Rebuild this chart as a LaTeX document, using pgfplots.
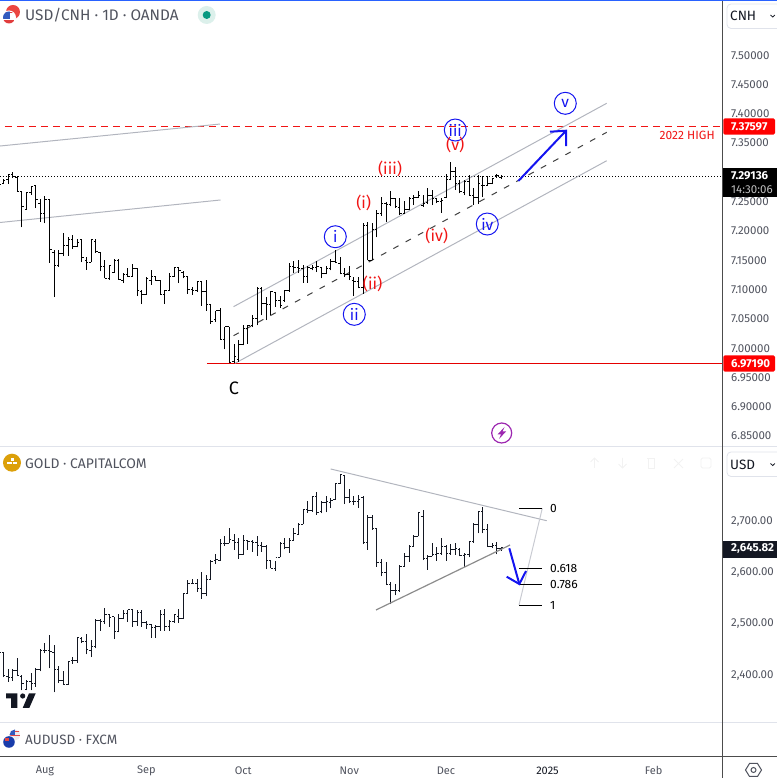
\documentclass[border=0pt]{standalone}
\usepackage{fontspec}
\setmainfont{Fira Sans}
\usepackage{pgfplots}
\usepackage{pgfplotstable}
\pgfplotsset{compat=1.18}
\definecolor{tvgray}{HTML}{50535E}
\definecolor{tvdark}{HTML}{131722}
\definecolor{sepc}{HTML}{E0E3EB}
\definecolor{chanc}{HTML}{B2B5BE}
\definecolor{ablue}{HTML}{1414F0}
\definecolor{ared}{HTML}{F01414}
\newcommand\XY[2]{(#1bp,{778bp-#2bp})}
\newcommand\fs[1]{\fontsize{#1bp}{#1bp}\selectfont}
\pgfplotstableread{
i o h l c
-10 7.266 7.278 7.261 7.278
-9 7.279 7.286 7.278 7.285
-8 7.286 7.295 7.279 7.294
-7 7.294 7.298 7.288 7.291
-6 7.289 7.291 7.265 7.265
-5 7.265 7.265 7.204 7.239
-4 7.235 7.265 7.235 7.264
-3 7.263 7.274 7.260 7.274
-2 7.275 7.275 7.237 7.252
-1 7.245 7.252 7.214 7.227
0 7.227 7.258 7.211 7.251
1 7.251 7.252 7.144 7.166
2 7.161 7.166 7.085 7.139
3 7.139 7.166 7.137 7.159
4 7.160 7.194 7.155 7.173
5 7.173 7.187 7.156 7.184
6 7.184 7.191 7.167 7.171
7 7.171 7.184 7.170 7.179
8 7.183 7.184 7.145 7.153
9 7.148 7.153 7.132 7.145
10 7.145 7.184 7.145 7.183
11 7.180 7.184 7.161 7.163
12 7.161 7.163 7.129 7.137
13 7.137 7.148 7.117 7.117
14 7.117 7.140 7.115 7.139
15 7.128 7.150 7.127 7.148
16 7.148 7.150 7.115 7.115
17 7.114 7.126 7.109 7.123
18 7.123 7.134 7.120 7.121
19 7.121 7.141 7.120 7.134
20 7.134 7.134 7.087 7.096
21 7.094 7.097 7.073 7.090
22 7.090 7.119 7.089 7.117
23 7.114 7.131 7.106 7.121
24 7.121 7.121 7.113 7.113
25 7.113 7.114 7.089 7.090
26 7.090 7.097 7.074 7.096
27 7.096 7.126 7.096 7.121
28 7.120 7.136 7.120 7.135
29 7.135 7.137 7.109 7.130
30 7.128 7.130 7.117 7.121
31 7.120 7.120 7.091 7.098
32 7.098 7.103 7.089 7.097
33 7.097 7.113 7.094 7.111
34 7.111 7.113 7.070 7.095
35 7.095 7.114 7.062 7.072
36 7.072 7.072 7.040 7.043
37 7.047 7.062 7.043 7.062
38 7.062 7.066 7.012 7.012
39 7.012 7.035 6.996 7.035
40 7.035 7.035 6.973 6.973
41 6.975 7.005 6.972 6.983
42 6.979 7.012 6.975 7.005
43 7.005 7.037 7.003 7.032
44 7.032 7.037 7.006 7.037
45 7.037 7.054 7.034 7.049
46 7.049 7.103 7.037 7.100
47 7.100 7.102 7.054 7.074
48 7.074 7.086 7.046 7.073
49 7.072 7.096 7.054 7.094
50 7.093 7.094 7.069 7.080
51 7.080 7.087 7.067 7.070
52 7.079 7.097 7.077 7.096
53 7.097 7.143 7.094 7.137
54 7.137 7.147 7.126 7.136
55 7.136 7.148 7.127 7.134
56 7.134 7.140 7.110 7.120
57 7.120 7.139 7.110 7.136
58 7.134 7.140 7.131 7.136
59 7.136 7.146 7.128 7.137
60 7.136 7.137 7.117 7.126
61 7.126 7.138 7.124 7.134
62 7.134 7.151 7.131 7.146
63 7.146 7.165 7.143 7.144
64 7.143 7.154 7.124 7.126
65 7.126 7.134 7.120 7.124
66 7.124 7.139 7.114 7.120
67 7.114 7.119 7.087 7.111
68 7.111 7.119 7.100 7.102
69 7.102 7.211 7.091 7.208
70 7.208 7.213 7.148 7.148
71 7.148 7.211 7.148 7.200
72 7.200 7.233 7.187 7.227
73 7.227 7.256 7.224 7.245
74 7.245 7.248 7.213 7.244
75 7.244 7.266 7.240 7.254
76 7.254 7.254 7.238 7.239
77 7.238 7.254 7.225 7.228
78 7.228 7.250 7.227 7.234
79 7.234 7.256 7.233 7.254
80 7.254 7.259 7.242 7.256
81 7.256 7.267 7.254 7.259
82 7.242 7.259 7.239 7.245
83 7.246 7.272 7.244 7.258
84 7.258 7.268 7.242 7.254
85 7.254 7.255 7.245 7.248
86 7.248 7.254 7.229 7.250
87 7.255 7.296 7.254 7.286
88 7.286 7.315 7.285 7.299
89 7.299 7.307 7.268 7.279
90 7.279 7.285 7.262 7.265
91 7.263 7.285 7.259 7.282
92 7.282 7.293 7.258 7.259
93 7.259 7.271 7.243 7.256
94 7.256 7.293 7.244 7.279
95 7.276 7.291 7.256 7.276
96 7.276 7.292 7.276 7.279
97 7.279 7.288 7.278 7.288
98 7.293 7.295 7.289 7.293
99 7.289 7.293 7.287 7.291
}\usdcnh
\pgfplotstableread{
i o h l c
-10 2466 2473 2442 2442
-9 2442 2442 2394 2398
-8 2396 2409 2385 2394
-7 2394 2409 2387 2407
-6 2407 2431 2396 2398
-5 2396 2398 2368 2382
-4 2369 2388 2368 2385
-3 2385 2401 2368 2382
-2 2381 2411 2375 2408
-1 2408 2448 2405 2445
0 2445 2460 2440 2445
1 2445 2476 2411 2443
2 2442 2456 2364 2408
3 2408 2416 2382 2388
4 2387 2405 2379 2380
5 2380 2426 2379 2424
6 2427 2434 2420 2427
7 2427 2473 2422 2471
8 2470 2473 2460 2464
9 2463 2477 2438 2447
10 2445 2466 2433 2453
11 2453 2507 2450 2505
12 2505 2507 2484 2502
13 2502 2529 2497 2515
14 2515 2515 2492 2510
15 2512 2512 2468 2482
16 2482 2517 2481 2508
17 2508 2525 2507 2518
18 2518 2525 2502 2525
19 2525 2527 2492 2502
20 2502 2525 2494 2520
21 2520 2525 2492 2501
22 2501 2504 2488 2497
23 2497 2497 2471 2491
24 2491 2495 2471 2492
25 2492 2525 2484 2515
26 2515 2526 2484 2492
27 2492 2505 2484 2502
28 2502 2517 2500 2515
29 2512 2526 2500 2508
30 2508 2557 2507 2556
31 2557 2584 2557 2577
32 2577 2586 2575 2577
33 2577 2586 2560 2567
34 2567 2599 2547 2556
35 2556 2593 2551 2584
36 2584 2623 2584 2619
37 2621 2634 2614 2623
38 2622 2663 2621 2655
39 2655 2668 2649 2655
40 2655 2684 2655 2663
41 2661 2673 2642 2656
42 2656 2664 2625 2632
43 2632 2671 2632 2661
44 2661 2661 2642 2658
45 2658 2662 2638 2656
46 2656 2669 2630 2651
47 2651 2658 2638 2648
48 2648 2651 2604 2621
49 2621 2622 2606 2606
50 2606 2621 2601 2627
51 2627 2658 2627 2655
52 2655 2664 2643 2647
53 2647 2664 2636 2660
54 2661 2684 2660 2673
55 2672 2695 2671 2692
56 2692 2721 2692 2720
57 2720 2738 2714 2718
58 2718 2747 2716 2746
59 2746 2755 2710 2714
60 2716 2738 2713 2734
61 2734 2746 2715 2736
62 2734 2742 2723 2738
63 2740 2773 2739 2771
64 2771 2788 2771 2788
65 2786 2788 2731 2744
66 2744 2760 2733 2736
67 2736 2746 2729 2736
68 2736 2749 2723 2740
69 2744 2747 2653 2656
70 2656 2710 2642 2705
71 2705 2710 2681 2684
72 2683 2684 2609 2617
73 2617 2625 2590 2597
74 2597 2619 2573 2575
75 2575 2580 2536 2562
76 2562 2575 2553 2562
77 2562 2612 2560 2610
78 2610 2636 2609 2629
79 2629 2651 2619 2649
80 2649 2671 2648 2668
81 2668 2716 2668 2714
82 2707 2720 2622 2625
83 2625 2632 2603 2629
84 2629 2656 2629 2632
85 2632 2648 2621 2635
86 2635 2664 2632 2649
87 2649 2651 2621 2635
88 2635 2653 2632 2642
89 2642 2655 2632 2645
90 2642 2645 2629 2630
91 2630 2635 2609 2632
92 2632 2658 2627 2658
93 2658 2694 2656 2692
94 2692 2718 2674 2716
95 2716 2726 2674 2681
96 2681 2692 2647 2648
97 2648 2655 2645 2651
98 2651 2658 2633 2645
99 2645 2648 2640 2646
}\goldtab
\pgfplotsset{
 panel/.style={scale only axis, width=723bp, xmin=-9.76, xmax=147.07,
  anchor=south west, axis line style={draw=none}, major tick length=0pt,
  xtick=\empty,
  ytick pos=right, yticklabel pos=right,
  tick label style={font=\fs{11.5}, text=tvgray},
  yticklabel style={anchor=west, inner sep=0pt, xshift=8bp, yshift=-1.2bp},
  /pgf/number format/assume math mode=true,
  grid=none},
 chanline/.style={chanc, line width=1bp},
}
\newcommand\ohlc[2]{%
 \addplot[draw=none, mark=none, forget plot, error bars/.cd, y dir=plus, y explicit, error mark=none, error bar style={line width=1bp, #2}]
   table[x=i, y=l, y error plus expr=\thisrow{h}-\thisrow{l}] {#1};
 \addplot[draw=none, mark=none, forget plot, error bars/.cd, x dir=minus, x fixed=0.42, error mark=none, error bar style={line width=1bp, #2}]
   table[x=i, y=o] {#1};
 \addplot[draw=none, mark=none, forget plot, error bars/.cd, x dir=plus, x fixed=0.42, error mark=none, error bar style={line width=1bp, #2}]
   table[x=i, y=c] {#1};
}
\begin{document}
\begin{tikzpicture}
\path[use as bounding box] (0,0) rectangle (777bp,778bp);
% ---------- USD/CNH panel
\begin{axis}[panel, at={(0bp,332bp)}, height=446bp, ymin=6.8311, ymax=7.5922,
 ytick={6.85,6.9,6.95,7,7.05,7.1,7.15,7.2,7.25,7.3,7.35,7.4,7.45,7.5},
 yticklabel style={/pgf/number format/.cd, fixed, fixed zerofill, precision=5}]
 \addplot[black, line width=1bp, dash pattern=on 1bp off 2bp, forget plot] coordinates {(-9.76,7.29136)(147.07,7.29136)};
 \addplot[ared, line width=1bp, dash pattern=on 7bp off 5bp, forget plot] coordinates {(-8.68,7.37597)(147.07,7.37597)};
 \addplot[red!90!black, line width=1bp, forget plot] coordinates {(35.14,6.9719)(147.07,6.9719)};
 \addplot[chanline, forget plot] coordinates {(-9.76,7.343)(37.96,7.3805)};
 \addplot[chanline, forget plot] coordinates {(-9.76,7.2125)(38.07,7.2509)};
 \addplot[chanline, forget plot] coordinates {(40.89,7.0688)(121.84,7.4159)};
 \addplot[chanline, forget plot] coordinates {(41.21,6.9722)(121.84,7.3179)};
 \addplot[black!75, line width=1bp, dash pattern=on 6bp off 8bp, forget plot] coordinates {(40.89,7.0193)(121.84,7.3664)};
 \ohlc{\usdcnh}{black}
 \addplot[ablue, line width=2bp, forget plot] coordinates {(102.67,7.2833)(113.02,7.3691)};
 \addplot[ablue, line width=2bp, forget plot] coordinates {(109.54,7.3674)(113.02,7.3691)(113.02,7.343)};
 \tikzset{ew/.style={circle, draw=ablue, line width=1bp, text=ablue, minimum size=22bp, inner sep=0pt, font=\fs{15.5}},
          er/.style={text=ared, inner sep=0pt, font=\fs{16}}}
 \node[ew] at (axis cs:62.97,7.1882) {i};
 \node[ew] at (axis cs:67.09,7.0558) {ii};
 \node[ew] at (axis cs:89.0,7.3703) {iii};
 \node[ew] at (axis cs:95.94,7.2099) {iv};
 \node[ew] at (axis cs:112.86,7.4159) {v};
 \node[er] at (axis cs:69.13,7.2452) {(i)};
 \node[er] at (axis cs:71.08,7.1075) {(ii)};
 \node[er] at (axis cs:74.84,7.3032) {(iii)};
 \node[er] at (axis cs:84.97,7.1899) {(iv)};
 \node[er] at (axis cs:89.0,7.3447) {(v)};
 \node[text=black, font=\fs{18}, inner sep=0pt] at (axis cs:41.0,6.930) {C};
 \node[text=ared, font=\fs{12}, inner sep=0pt] at (axis cs:139.3,7.3613) {2022 HIGH};
\end{axis}
% ---------- GOLD panel
\begin{axis}[panel, at={(0bp,55.7bp)}, height=276.3bp, ymin=2305.9, ymax=2844.2,
 ytick={2400,2500,2600,2700},
 yticklabel style={/pgf/number format/.cd, fixed, fixed zerofill, precision=2, 1000 sep={,}}]
 \ohlc{\goldtab}{tvdark}
 \addplot[chanline, forget plot] coordinates {(61.97,2799.4)(108.83,2698.6)};
 \addplot[black!45, line width=1.2bp, forget plot] coordinates {(71.8,2524.7)(100.87,2651.3)};
 \addplot[chanc!70, line width=1bp, forget plot] coordinates {(107.87,2722.8)(102.82,2534.4)};
 \addplot[black, line width=1bp, forget plot] coordinates {(102.82,2722.8)(107.81,2722.8)};
 \addplot[black, line width=1bp, forget plot] coordinates {(102.82,2605.9)(107.81,2605.9)};
 \addplot[black, line width=1bp, forget plot] coordinates {(102.82,2574.7)(107.81,2574.7)};
 \addplot[black, line width=1bp, forget plot] coordinates {(102.82,2534.4)(107.81,2534.4)};
 \addplot[ablue, line width=2bp, forget plot] coordinates {(100.72,2644.9)(102.89,2575.3)};
 \addplot[ablue, line width=2bp, forget plot] coordinates {(100.15,2589.5)(102.89,2575.3)(104.34,2600.6)};
 \tikzset{fb/.style={anchor=west, inner sep=0pt, text=black, font=\fs{12}}}
 \node[fb] at (axis cs:109.54,2722.8) {0};
 \node[fb] at (axis cs:109.54,2605.9) {0.618};
 \node[fb] at (axis cs:109.54,2574.7) {0.786};
 \node[fb] at (axis cs:109.54,2534.4) {1};
\end{axis}
% ---------- AUDUSD panel with the time scale
\begin{axis}[panel, at={(0bp,22bp)}, height=33.7bp, ymin=0, ymax=1, ytick=\empty,
 xtick={0,22,43,66,87,109,132},
 xticklabels={Aug,Sep,Oct,Nov,Dec,{\textcolor{tvdark}{2025}},Feb},
 xticklabel style={anchor=center, inner sep=0pt, yshift=-14.5bp, font=\fs{11}}]
\end{axis}
% ---------- frame lines
\draw[sepc, line width=1bp] \XY{0}{446.3} -- \XY{777}{446.3};
\draw[sepc, line width=1bp] \XY{0}{722.3} -- \XY{777}{722.3};
\draw[black!70, line width=1bp] \XY{0}{756.3} -- \XY{777}{756.3};
\draw[black!70, line width=1bp] \XY{722.7}{0} -- \XY{722.7}{778};
\fill[color={rgb,255:red,41;green,98;blue,255}] \XY{0}{0} rectangle \XY{777}{1};
% ---------- faint pane buttons
\begin{scope}[color=black!5, line width=.8bp]
 \draw \XY{594.5}{468} -- \XY{594.5}{458} \XY{590.5}{462} -- \XY{594.5}{458} -- \XY{598.5}{462};
 \draw \XY{622.5}{458} -- \XY{622.5}{468} \XY{618.5}{464} -- \XY{622.5}{468} -- \XY{626.5}{464};
 \draw \XY{647}{458} -- \XY{655}{458} \XY{648}{458} rectangle \XY{654}{468};
 \draw \XY{674}{459} -- \XY{683}{468} \XY{683}{459} -- \XY{674}{468};
 \draw[rounded corners=1.5bp] \XY{701}{458} rectangle \XY{711}{468};
\end{scope}
% ---------- scale selectors
\draw[sepc, line width=.8bp, rounded corners=4bp, fill=white] \XY{727}{4} rectangle \XY{790}{28.5};
\draw[sepc, line width=.8bp, rounded corners=4bp, fill=white] \XY{727}{452} rectangle \XY{790}{476.5};
\node[anchor=west, inner sep=0pt, text=tvdark, font=\fs{13.5}] at \XY{730}{16} {CNH};
\node[anchor=west, inner sep=0pt, text=tvdark, font=\fs{13.5}] at \XY{730}{464.5} {USD};
\draw[tvdark, line width=.8bp] \XY{770.5}{15} -- \XY{772.7}{17} -- \XY{774.9}{15};
\draw[tvdark, line width=.8bp] \XY{770.5}{463.5} -- \XY{772.7}{465.5} -- \XY{774.9}{463.5};
% ---------- price tags
\tikzset{tag/.style={anchor=west, inner sep=0pt, text=white, font=\fs{11.5}\bfseries}}
\fill[red, rounded corners=1.5bp] \XY{723.3}{118.3} rectangle \XY{775}{134.7};
\node[tag] at \XY{731}{126.5} {7.37597};
\fill[black] \XY{723.3}{168.3} rectangle \XY{777}{197.3};
\node[tag] at \XY{731}{176} {7.29136};
\node[anchor=west, inner sep=0pt, text=black!25, font=\fs{11.5}] at \XY{731}{189.5} {14:30:06};
\fill[red, rounded corners=1.5bp] \XY{723.3}{355.3} rectangle \XY{775}{371.7};
\node[tag] at \XY{731}{363.5} {6.97190};
\fill[tvdark] \XY{723.3}{541.3} rectangle \XY{777}{558};
\node[tag] at \XY{731}{549} {2,645.82};
% ---------- legends
\tikzset{leg/.style={anchor=west, inner sep=0pt, text=tvgray, font=\fs{15.3}}}
\node[leg] at \XY{25}{15.5} {USD/CNH · 1D · OANDA};
\node[leg, font=\fs{13.9}] at \XY{25}{463.5} {GOLD · CAPITALCOM};
\node[leg, font=\fs{13.5}] at \XY{25}{739.5} {AUDUSD · FXCM};
% status dot
\fill[color={rgb,255:red,220;green,240;blue,235}] \XY{206.7}{15} circle (9bp);
\fill[color={rgb,255:red,8;green,153;blue,129}] \XY{206.7}{15} circle (4bp);
% USD/CNH icon
\fill[color={rgb,255:red,235;green,70;blue,65}] \XY{13}{12} circle (7bp);
\fill[white] \XY{9}{17.5} circle (7bp);
\begin{scope}
 \clip \XY{9}{17.5} circle (6bp);
 \fill[color={rgb,255:red,225;green,60;blue,60}] \XY{3}{12} rectangle \XY{15}{13.5};
 \fill[color={rgb,255:red,225;green,60;blue,60}] \XY{3}{20} rectangle \XY{15}{24};
 \fill[color={rgb,255:red,50;green,90;blue,190}] \XY{3}{11} rectangle \XY{10}{19};
\end{scope}
% gold icon
\fill[color={rgb,255:red,220;green,160;blue,10}] \XY{12}{462.7} circle (9bp);
\fill[white] \XY{10.5}{458.5} rectangle \XY{13.5}{461};
\fill[white] \XY{7}{462} rectangle \XY{11.5}{464.5};
\fill[white] \XY{12.5}{462} rectangle \XY{17}{464.5};
% AUD icon
\begin{scope}
 \clip \XY{15}{735} circle (5.5bp);
 \fill[color={rgb,255:red,235;green,235;blue,240}] \XY{9}{729} rectangle \XY{21}{741};
 \fill[color={rgb,255:red,225;green,70;blue,70}] \XY{9}{731} rectangle \XY{21}{732.5};
 \fill[color={rgb,255:red,225;green,70;blue,70}] \XY{9}{735} rectangle \XY{21}{736.5};
 \fill[color={rgb,255:red,50;green,90;blue,190}] \XY{9}{729} rectangle \XY{15}{735};
\end{scope}
\fill[white] \XY{9}{742} circle (6.6bp);
\fill[color={rgb,255:red,25;green,60;blue,170}] \XY{9}{742} circle (5.8bp);
\fill[color={rgb,255:red,225;green,70;blue,70}] \XY{5}{738} rectangle \XY{9}{741};
% TradingView logo
\fill[tvdark] \XY{6}{693.3} -- \XY{17.3}{693.3} -- \XY{17.3}{708} -- \XY{11}{708} -- \XY{11}{698.3} -- \XY{6}{698.3} -- cycle;
\fill[tvdark] \XY{22.7}{696} circle (2.6bp);
\fill[tvdark] \XY{29}{693.3} -- \XY{35.7}{693.3} -- \XY{29.3}{708} -- \XY{22.7}{708} -- cycle;
% lightning badge
\draw[color={rgb,255:red,156;green,39;blue,176}, line width=1.2bp] \XY{501.7}{433} circle (10bp);
\fill[color={rgb,255:red,156;green,39;blue,176}] \XY{504.5}{427} -- \XY{497.5}{434.5} -- \XY{501}{434.5} -- \XY{499}{439} -- \XY{506}{431.5} -- \XY{502.5}{431.5} -- cycle;
% settings hexagon
\draw[tvgray, line width=1bp] \XY{745.5}{770} -- \XY{749.5}{763.5} -- \XY{757.5}{763.5} -- \XY{761.5}{770} -- \XY{757.5}{776.5} -- \XY{749.5}{776.5} -- cycle;
\draw[tvgray, line width=1bp] \XY{753.5}{770} circle (2.5bp);
\end{tikzpicture}
\end{document}
